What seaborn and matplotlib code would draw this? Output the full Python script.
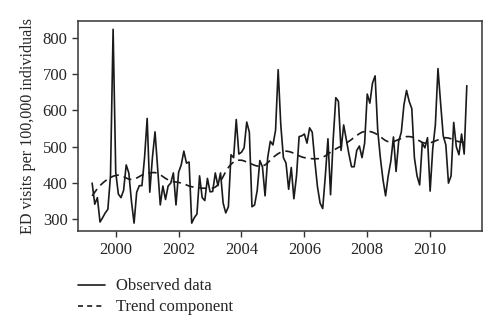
import numpy as np
import pandas as pd
import matplotlib
matplotlib.use("Agg")
import matplotlib.pyplot as plt
import seaborn as sns
from matplotlib.lines import Line2D

start_year = 1999
start_month = 4  # April 1999, monthly data

observed = [
    400, 342, 360, 293, 305, 318, 328, 420, 823,
    430, 370, 360, 380, 450, 428, 350, 290, 375, 393, 393, 470,
    578, 375, 470, 541, 440, 340, 392, 355, 392, 400, 428, 340,
    430, 450, 488, 455, 458, 290, 305, 315, 420, 360, 352, 413,
    376, 377, 428, 393, 428, 345, 318, 335, 478, 470, 575, 480,
    485, 497, 568, 540, 335, 340, 380, 462, 445, 365, 470, 515,
    505, 545, 712, 560, 470, 455, 383, 443, 357, 420, 528, 530,
    535, 510, 552, 540, 460, 390, 345, 330, 420, 522, 368, 520,
    635, 625, 490, 560, 520, 480, 445, 445, 490, 502, 470, 510,
    645, 620, 675, 695, 545, 470, 410, 365, 420, 460, 527, 432,
    515, 540, 615, 655, 625, 605, 470, 420, 395, 510, 497, 525,
    378, 495, 560, 715, 620, 530, 505, 400, 420, 567, 500, 478,
    535, 480, 668,
]

trend = [
    365, 375, 385, 393, 400, 406, 411, 415, 419,
    421, 422, 421, 418, 414, 411, 410, 411, 414, 418, 422, 425,
    427, 428, 429, 429, 427, 423, 418, 413, 409, 406, 404, 403,
    402, 400, 398, 395, 392, 390, 389, 388, 387, 386, 386, 385,
    385, 386, 389, 395, 405, 418, 432, 443, 452, 458, 462, 463,
    463, 461, 458, 455, 452, 449, 447, 446, 447, 450, 456, 463,
    470, 476, 481, 485, 487, 488, 487, 485, 482, 478, 475, 472,
    470, 469, 468, 467, 467, 467, 468, 471, 475, 480, 485, 490,
    494, 498, 502, 506, 510, 515, 520, 526, 531, 536, 540, 542,
    543, 542, 540, 537, 533, 528, 522, 517, 514, 513, 514, 517,
    520, 523, 526, 528, 528, 527, 524, 520, 516, 512, 510, 510,
    511, 513, 516, 519, 522, 524, 525, 524, 522, 519, 516, 514,
    513, 512, 511,
]

xticks = [2000, 2002, 2004, 2006, 2008, 2010]
yticks = [300, 400, 500, 600, 700, 800]
labels = ["Observed data", "Trend component"]

n = len(observed)
t = start_year + (start_month - 1) / 12 + np.arange(n) / 12
df = pd.DataFrame({
    "t": np.concatenate([t, t]),
    "value": observed + trend,
    "series": [labels[0]] * n + [labels[1]] * n,
})

sns.set_style("ticks")
plt.rcParams["font.family"] = ["Liberation Serif", "DejaVu Serif"]

fig = plt.figure(figsize=(5, 3.33), dpi=100)
ax = fig.add_axes([0.156, 0.306, 0.808, 0.631])
sns.lineplot(data=df, x="t", y="value", hue="series", style="series",
             palette=["#1a1a1a", "#1a1a1a"], dashes=[(None, None), (5, 3)],
             linewidth=1.2, ax=ax, legend=False)

ax.set_xlim(1998.8, 2011.65)
ax.set_ylim(268, 846)
ax.set_xticks(xticks)
ax.set_xticklabels([str(v) for v in xticks])
ax.set_yticks(yticks)
ax.set_xlabel("")
ax.set_ylabel("ED visits per 100,000 individuals", fontsize=11.6, labelpad=5)
ax.tick_params(labelsize=12, length=4, width=1, color="#333333")
for s in ax.spines.values():
    s.set_color("#444444")
    s.set_linewidth(1.2)

h = [Line2D([], [], color="#1a1a1a", lw=1.2),
     Line2D([], [], color="#1a1a1a", lw=1.2, linestyle=(0, (3, 2.5)))]
fig.legend(h, labels, loc="upper left", bbox_to_anchor=(0.143, 0.184),
           frameon=False, fontsize=12, handlelength=1.6, handletextpad=0.7,
           labelspacing=0.3, borderaxespad=0)

fig.savefig("out.png", dpi=100)
